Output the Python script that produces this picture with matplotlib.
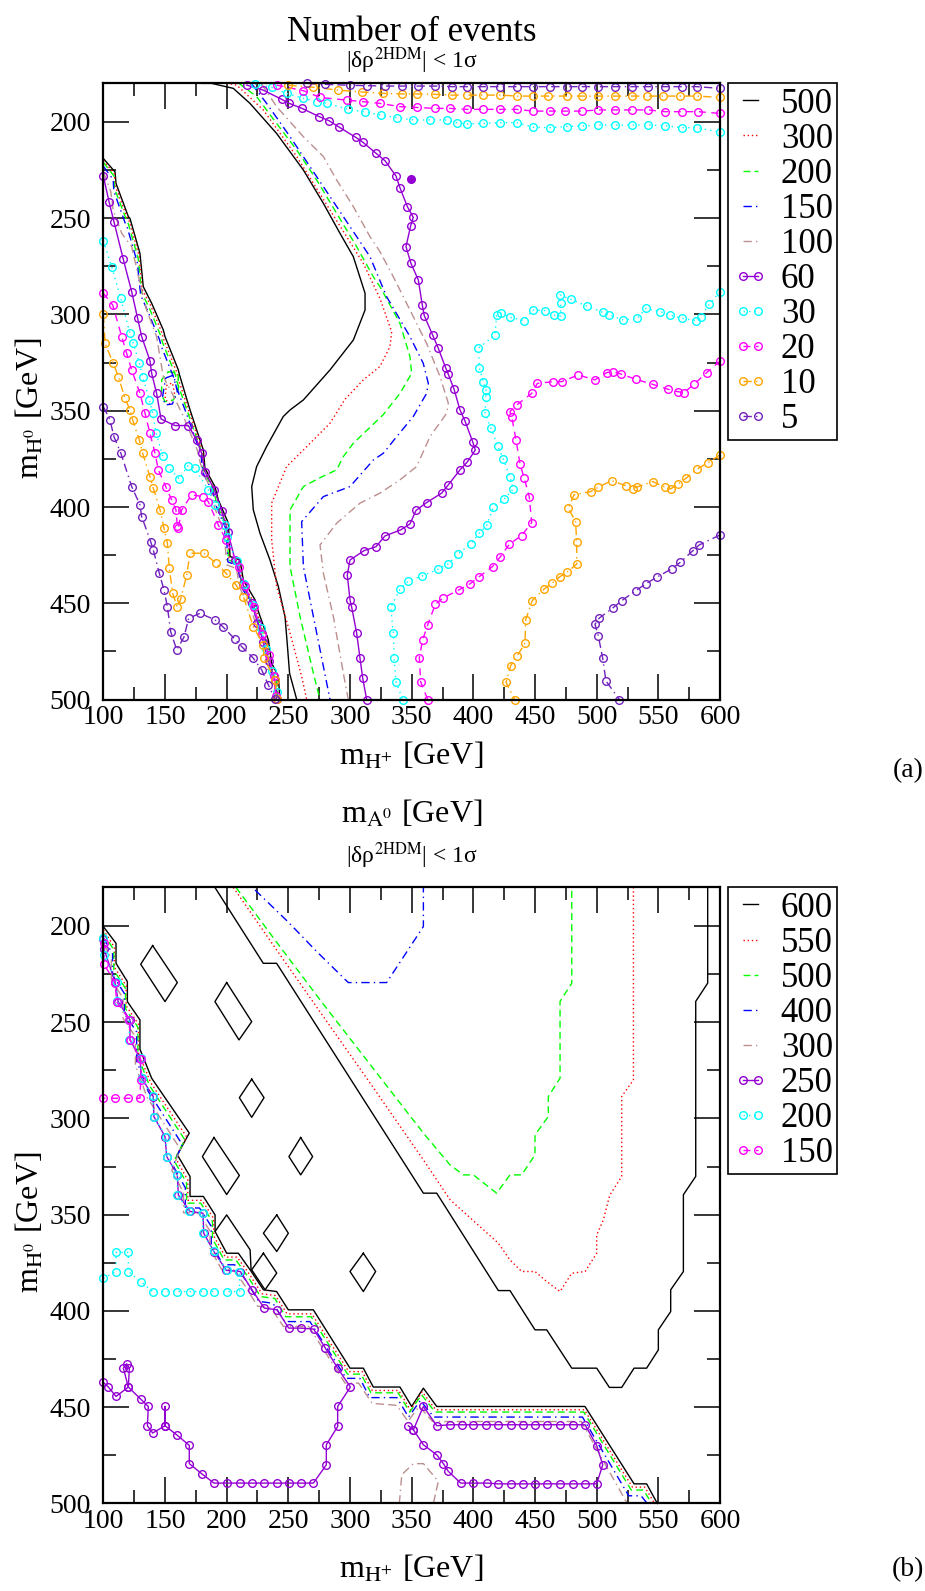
import matplotlib.pyplot as plt
from matplotlib.ticker import MultipleLocator

plt.rcParams['font.family'] = ['Liberation Serif', 'DejaVu Serif']
plt.rcParams['mathtext.fontset'] = 'stix'

x_ticks = [100, 150, 200, 250, 300, 350, 400, 450, 500, 550, 600]
y_ticks = [200, 250, 300, 350, 400, 450, 500]

# ---------------- panel (a): number of events ----------------
a500_right = [(180, 180), (187.8, 180), (205.4, 182.6), (218.9, 190.4), (240.5, 206), (262.2, 225),
              (278.4, 242.3), (291.9, 257.9), (302.7, 270), (312.2, 289), (312.2, 297.7), (302.7, 313.3),
              (283.8, 328.8), (262.2, 344.4), (251.4, 349.6), (245.9, 353), (232.4, 368.6), (224.3, 379),
              (220.3, 389.4), (221.6, 401.5), (227, 413.6), (235.1, 427.5), (241.9, 441.3), (247.3, 456.9),
              (249, 470), (251, 486.3), (256.8, 500)]
a500_left = [(100, 219), (109.5, 226), (110.3, 232), (120.3, 249.2), (121.6, 250.1), (129.7, 268.3),
             (132.4, 285.6), (139.2, 294.2), (148.6, 308), (150, 311.5), (160.8, 328.8), (161.6, 331),
             (170.3, 349.6), (181.1, 370.4), (182.4, 379.9), (190.5, 389.4), (193.2, 396.3), (201.4, 408.4),
             (202.7, 425.7), (210.8, 427.5), (213.5, 437.9), (223, 448.2), (224.3, 451.7), (233.8, 469),
             (236.5, 481.1), (241.9, 488), (243.2, 500)]

a300_right = [(200, 180), (208.1, 180.9), (229.7, 193.8), (256.8, 218), (283.8, 245.8), (310.8, 273.5),
              (324.3, 291.7), (333.8, 309), (332.4, 316.7), (324.3, 327), (310.8, 334), (296, 344),
              (283.8, 356.5), (262.2, 370.4), (248.6, 379), (236.5, 398), (236.5, 417), (240.5, 441.3),
              (251.4, 465.5), (260.8, 488), (264.9, 500)]
a300_left = [(100, 220), (109, 227), (109.5, 233), (119.5, 250), (121, 251.5), (129, 269.5), (131.5, 287),
             (138.5, 295.5), (147.5, 309.5), (149, 313), (159.5, 330), (160.5, 333), (169.5, 350.5),
             (180.5, 371), (181.8, 380.5), (190, 390.5), (192.5, 397.5), (200.5, 409.5), (202, 426.5),
             (210, 428.5), (212.5, 439), (222, 449.5), (223.5, 453), (233, 470), (235.5, 482), (241, 489),
             (242.2, 500)]
a300_loop = [(151, 337), (156, 335.5), (158, 342), (154, 346.5), (150, 344), (151, 337)]

a200_right = [(210, 180), (224.3, 186.9), (240.5, 200.8), (256.8, 214.6), (273, 230.2), (289.2, 247.5),
              (305.4, 264.8), (318.9, 280.4), (324.3, 285.6), (340.5, 304.6), (348.6, 321.9), (350, 330.6),
              (340.5, 341), (327, 352), (318.9, 357), (302.7, 366.9), (294.6, 373.8), (289.2, 380.7),
              (275, 385), (262.2, 389.4), (251.4, 401.5), (251.4, 431), (259.5, 456.9), (270.3, 486.3),
              (275.7, 500)]
a200_left = [(100, 221), (108.5, 228), (109, 234.5), (118.8, 251), (120.3, 253), (128.3, 271), (131, 288.5),
             (137.5, 297), (146.5, 311), (148, 314.5), (158.5, 331.5), (159.5, 334.5), (168.8, 351.5),
             (180, 372), (181.2, 381), (189.5, 391.5), (192, 398.5), (200, 410.5), (201.5, 427.5),
             (209.5, 429.5), (212, 440), (221.5, 450.5), (223, 454), (232.5, 471), (235, 483), (240.5, 490),
             (241.5, 500)]
a200_loop = [(152.7, 329.7), (160.8, 330.6), (160.8, 339.2), (156.8, 344.4), (150, 345.3), (147.3, 341.9),
             (147.3, 333.9), (152.7, 329.7)]

a150_right = [(220, 180), (232.4, 190.4), (251.4, 207.7), (267.6, 223.3), (283.8, 238.8), (300, 254.4),
              (316.2, 270), (329.7, 290.8), (348.6, 311.5), (359.4, 325.4), (363.5, 335.8), (362.1, 341),
              (351.3, 353), (337.8, 363.5), (327, 372.1), (318.9, 375.6), (300, 389.4), (278.4, 394.6),
              (260.8, 407.6), (262.2, 430.9), (273, 465.5), (283.8, 500)]
a150_left = [(100, 223), (108, 230), (108.5, 236), (118, 253), (119.5, 255), (127.5, 273), (130.3, 290),
             (136.5, 299), (145.5, 313), (147, 316.5), (157.5, 333.5), (158.5, 336.5), (168, 352.5),
             (179.3, 373), (180.6, 382), (189, 392.5), (191.5, 399.5), (199.5, 411.5), (201, 428.5),
             (209, 430.5), (211.5, 441), (221, 451.5), (222.5, 455), (232, 472), (234.5, 484), (240, 491),
             (240.8, 500)]
a150_loop = [(150.5, 333), (157, 331.5), (160, 340), (156, 346.5), (150.5, 347), (148, 343), (150.5, 333)]

a100_right = [(228, 180), (240.5, 192.1), (262.2, 207.7), (278.4, 218), (289.2, 230.2), (302.7, 244),
              (316.2, 259.6), (324.3, 267.4), (335.1, 280.4), (348.6, 297.7), (362.1, 315), (373, 332.3),
              (379.7, 346.1), (378.4, 351.3), (364.8, 363.5), (354, 379), (340.5, 385.9), (324.3, 392.8),
              (308.1, 398), (289.2, 408.4), (275.7, 419.7), (278.4, 434.4), (286.5, 456.9), (294.6, 486.3),
              (298.6, 500)]
a100_left = [(100, 226), (106, 236), (108, 245.8), (115, 258), (123, 264.8), (129.7, 283.8), (135.1, 297.7),
             (143.2, 311.5), (148.6, 332.3), (155, 340), (165, 353), (176, 370), (179, 378), (187.5, 392),
             (190, 400), (198, 413), (200, 430), (208, 432), (210.5, 442), (220, 453), (221.5, 456.5),
             (231, 473.5), (233.5, 485), (239, 492), (240, 500)]

a60_right = [(216.2, 180.9), (229.7, 183.5), (244.6, 188.3), (250.8, 190.4), (261.1, 193), (275.1, 197.3),
             (283, 199.4), (291.4, 202.8), (304.6, 208), (310.3, 210.5), (321.1, 216.3), (328.4, 220.2),
             (337.3, 228.1), (340.5, 234.2), (346.5, 244), (351.3, 249.6), (349.2, 253.9), (345.4, 264.8),
             (349.4, 273.5), (355.4, 282.1), (358.6, 295.1), (360.2, 300.6), (367, 310.7), (371.6, 317.6),
             (377.5, 327.6), (379.7, 331.1), (384.3, 338.7), (389.2, 349.6), (393.2, 355.3), (399.4, 366),
             (401.6, 370.4), (395.1, 376.6), (389.2, 380.7), (379.7, 388.5), (374.3, 392.8), (362.1, 397.7),
             (353.5, 401.8), (348.6, 408.8), (341.1, 411.9), (328.4, 415), (321.1, 420.6), (311.6, 422.6),
             (300, 427.5), (297.8, 435.3), (300, 448.2), (301.4, 452.1), (305.4, 465.5), (308.1, 478.5),
             (310.3, 488.9), (313.5, 500)]
a60_left = [(100, 228.1), (104.6, 241.4), (108.6, 251.8), (116.2, 271.4), (123, 288.2), (127.8, 302),
            (131.1, 311.5), (137.8, 324), (139.2, 330.6), (143.2, 341), (146.8, 354.3), (158.1, 357.7),
            (168.9, 357.7), (175.7, 365.2), (179.7, 372.1), (182.4, 381.6), (190, 391), (196, 402), (201, 413),
            (206.8, 427.5), (213, 440), (220.3, 450), (225, 460), (229.7, 470), (234, 480), (239.2, 489.8),
            (240.5, 499.8)]
a60_dot = [(349.2, 229.8)]

a30_top = [(223, 180.3), (236.5, 182.1), (248.6, 185.2), (262.2, 187.8), (273.5, 189.5), (281.1, 190.4),
           (298.6, 193.5), (312.2, 194.9), (324.9, 196.4), (337.8, 197.8), (351.4, 199), (364.8, 199),
           (378.4, 199), (386.5, 200.4), (395.1, 201.1), (408.1, 200.8), (421.6, 200.4), (435.1, 200.4),
           (448.6, 202.8), (462.1, 203), (475.6, 202.4), (487.8, 202.2), (501.3, 201.6), (514.8, 201.6),
           (528.4, 201.6), (541.9, 201.6), (555.4, 202), (568.9, 203), (581.1, 203), (600, 205.3)]
a30_right = [(600, 288.2), (591.3, 294.7), (584.3, 301.1), (580.5, 303.2), (568.9, 302), (559.4, 300.3),
             (551.3, 298.5), (540, 296.8), (533, 302), (521.6, 302.9), (510.2, 300.3), (504.8, 298.9),
             (491.9, 295.6), (478.9, 292.1), (470.3, 289.9), (470.8, 294.2), (470.8, 300.8), (465.4, 300.3),
             (458.1, 298), (448.1, 297.7), (441.1, 303.2), (429.7, 301.5), (422.1, 299.4), (418.9, 300.3),
             (417.5, 310.7), (404.1, 317.6), (404.9, 328), (408.1, 334.9), (410.2, 339.2), (410.2, 342.7),
             (409.4, 351.3), (414.3, 359.1), (419.7, 368.3), (424.3, 375), (429.7, 384.5), (432.4, 390.6),
             (424.8, 396), (416.2, 400.1), (410.8, 409.6), (404.9, 413.6), (397.8, 419.2), (387.8, 424.3),
             (379.7, 429.5), (371.6, 432.3), (358.6, 435.8), (347.3, 438.4), (340.5, 442.7), (333, 452),
             (335.1, 465.2), (335.7, 478.5), (337.3, 490.8), (342.7, 500)]
a30_left = [(100, 261.7), (106.8, 275.2), (114.1, 291.6), (121.6, 309.8), (124.3, 315), (129.2, 325.4),
            (131.9, 332.3), (137.3, 344.4), (140, 351.3), (142.7, 361.4), (148.1, 373.5), (153.5, 379.9),
            (161.4, 385.4), (168.4, 378.7), (174.3, 379.9), (185.1, 391.1), (190.5, 398.9), (198.6, 409.3),
            (200, 415.4), (208, 428), (214, 440), (221, 451), (228, 463), (232, 474), (237, 485), (240.5, 496)]

a20_top = [(240.5, 180.9), (262.2, 183.8), (275.7, 187.3), (297.3, 188.7), (310.8, 189.5), (324.3, 190.4),
           (340.5, 192.1), (354, 192.5), (368.9, 193), (381.1, 193), (394.6, 193.5), (408.1, 193.5),
           (421.6, 193.5), (435.1, 193.5), (448.6, 194.4), (462.1, 194.4), (474.3, 194.4), (487.8, 194.4),
           (501.3, 193.8), (514.8, 193.8), (528.4, 193.8), (541.9, 193.8), (555.4, 194.7), (568.9, 194.7),
           (582.4, 194.7), (600, 195.6)]
a20_right = [(600, 324.2), (589.2, 330.2), (578.9, 336.3), (570.8, 340.6), (565.6, 340.1), (558.1, 338.9),
             (545.4, 336.3), (531.9, 333.7), (519.4, 330.9), (513, 329.7), (508.1, 330.2), (498.6, 334),
             (485.1, 331.4), (471.6, 334.9), (464.8, 334.9), (451.9, 335.8), (447.3, 341), (435.1, 347.1),
             (429.7, 350.5), (431.1, 353.1), (434.6, 365.2), (437.8, 377.6), (441.3, 385.1), (445.4, 394.9),
             (447.3, 408.1), (439.2, 414.8), (429.2, 419.3), (421.6, 426.1), (415.6, 430.9), (404.9, 436.1),
             (397.3, 439.9), (388.4, 443), (375.1, 447.4), (369.2, 450.5), (363, 461.2), (358.9, 469),
             (356.2, 478.2), (357.3, 490.8), (363, 500)]
a20_left = [(100, 289), (107.6, 295.1), (114.9, 311.5), (118.9, 320.2), (123, 328.8), (129.7, 341),
            (133.8, 351.3), (137.8, 361.7), (141.9, 372.1), (144.6, 380.7), (150.8, 389.7), (155.4, 396.3),
            (158.9, 401.5), (160, 409.8), (160.8, 411), (163.5, 401.5), (171.6, 393.7), (181.1, 394.6),
            (185.1, 397.2), (193.2, 409.3), (199.5, 417.1), (210, 431), (215, 441), (222, 452), (229, 466),
            (234, 477), (238, 488), (240, 498)]

a10_top = [(250, 181), (270, 182), (290, 183.5), (310, 184.5), (327, 185.2), (341.9, 185.5), (354, 185.5),
           (368.9, 185.7), (382.4, 186.1), (394.6, 186.1), (408.1, 186.1), (421.6, 186.1), (435.1, 186.6),
           (448.6, 186.6), (460.8, 186.6), (475.6, 186.6), (487.8, 186.6), (501.3, 186.6), (514.8, 186.6),
           (528.4, 186.6), (540.5, 186.6), (554.1, 186.6), (567.6, 186.6), (581.1, 186.6), (600, 187.3)]
a10_right = [(600, 372.9), (590.5, 376.9), (581.1, 380.4), (572.4, 385.1), (565.6, 388.2), (560, 390.6),
             (555.4, 389.7), (545.4, 386.8), (532.4, 389.7), (529.2, 390.4), (523.8, 389), (512.1, 386.3),
             (501.3, 389.7), (495.1, 392), (481.6, 393.7), (477, 400.6), (482.9, 407.6), (483.8, 418.3),
             (483.8, 429.7), (475.7, 434), (470.3, 436.1), (463.8, 439.6), (457.5, 442.5), (447.8, 448.6),
             (442.4, 458.6), (441.9, 470.7), (435.6, 477.3), (430.2, 482.5), (426.5, 491.1), (433.5, 500)]
a10_left = [(100, 300), (101.4, 315), (108.1, 325.4), (112.2, 332.3), (117.6, 343.6), (121.6, 349.6),
            (123.8, 354.8), (129.2, 365.2), (131.9, 372.1), (137.8, 384.2), (140.5, 390.3), (146, 401.5),
            (149.2, 411), (151.9, 418.8), (153.5, 431.8), (156.2, 444.8), (160, 452.1), (162.7, 447.9),
            (167.6, 435.3), (170.3, 424), (181.6, 424), (191.4, 429.2), (199.5, 434.4), (207.6, 440.5),
            (213.5, 446.5), (221.6, 462.1), (229.7, 471.6), (230.3, 478.5), (239.2, 489.8), (240.5, 499.8)]

a5_top = [(265, 180), (280, 180.5), (300, 181), (314, 181.2), (328.4, 181.4), (341.9, 181.4), (355.4, 181.4),
          (368.9, 181.4), (382.4, 181.7), (394.6, 181.7), (408.1, 181.7), (421.6, 181.7), (435.1, 181.7),
          (448.6, 181.7), (462.1, 181.7), (475.6, 181.7), (487.8, 181.7), (501.3, 181.7), (514.8, 181.7),
          (528.4, 181.7), (541.9, 181.7), (555.4, 181.7), (568.9, 181.7), (581.1, 181.7), (600, 182.6)]
a5_right = [(600, 414.5), (583.2, 419.7), (577.8, 422.8), (567.6, 428.8), (560.8, 432.1), (548.6, 436.5),
            (539.7, 439.9), (531.9, 443.4), (520.2, 448.7), (513.5, 452.2), (502.1, 457.7), (498.6, 460.9),
            (501.3, 466.9), (504.8, 478.2), (507.5, 490.3), (518.4, 500)]
a5_left = [(100, 347.9), (105.4, 354.8), (108.6, 363.5), (114.1, 371.8), (123, 389.4), (129.7, 398.9),
           (131.1, 405), (138.4, 418), (140.5, 422.3), (145.4, 434.4), (149.2, 443.1), (151.9, 451.7),
           (154.6, 464.7), (159.5, 474.2), (165.4, 467.6), (169.2, 457.8), (178.4, 455.2), (190.5, 458.6),
           (196.8, 462.1), (206.8, 468.7), (212.2, 472.5), (221.6, 478.5), (228.4, 484.6), (233.8, 492.4),
           (239.2, 499.8)]

# ---------------- panel (b): m_A0 ----------------
b600_right = [(190.5, 180), (229.7, 219.4), (240.5, 219.4), (359.5, 338.8), (370.3, 338.8), (420.3, 389.4),
              (429.7, 389.4), (450, 409.8), (459.5, 409.8), (479.8, 429.7), (500, 429.7), (510.3, 439.7),
              (520.3, 439.7), (530.3, 429.7), (540.5, 429.7), (550, 420.2), (550, 409.8), (560, 400.3),
              (560, 389), (570.3, 379.5), (570.3, 339.6), (580.3, 330.1), (580.3, 239.2), (590, 229.7),
              (590, 180)]
b600_left = [(100, 200.3), (110.3, 209), (110.3, 219.4), (119.5, 228.9), (119.5, 239.3), (129.7, 248.8),
             (129.7, 264), (139.2, 279.1), (169.7, 307.6), (160, 318.9), (170.3, 330.1), (170.3, 340.5),
             (181.1, 340.5), (190.6, 350.1), (190.6, 358.7), (200, 370), (209.5, 370), (219, 378.6),
             (229.8, 389), (240.5, 389.9), (250, 399.4), (270.3, 399.4), (300, 429.7), (310.8, 429.7),
             (318.9, 439.5), (340.5, 439.5), (350, 449.6), (359.5, 440.1), (370.3, 449.6), (490.5, 449.6),
             (530.3, 489.8), (540.5, 489.8), (549.2, 500)]
b600_d1 = [(140, 210.2), (160, 229.4), (150, 239.3), (130.3, 219.9), (140, 210.2)]
b600_d2 = [(200, 229.4), (220.3, 249.7), (210, 259.2), (190.5, 239.3), (200, 229.4)]
b600_d3 = [(220.3, 279.6), (230.3, 289.2), (220.3, 299.4), (210.3, 289.2), (220.3, 279.6)]
b600_d4 = [(189.7, 309.9), (210.3, 329.6), (200, 339.5), (180.3, 319.8), (189.7, 309.9)]
b600_d5 = [(260, 309.9), (269.7, 319.8), (260, 329.3), (250.5, 319.8), (260, 309.9)]
b600_d6 = [(240.6, 350.1), (250, 359.6), (240.6, 369.1), (229.8, 359.6), (240.6, 350.1)]
b600_d7 = [(229.8, 370), (240.6, 380.3), (231.1, 389), (220.3, 378.6), (229.8, 370)]
b600_d8 = [(190.6, 358.7), (200, 350.1), (219, 368.2), (219.8, 378.6)]
b600_d9 = [(310.8, 370), (320.8, 379.5), (310.8, 389.9), (300, 379.5), (310.8, 370)]

b550_right = [(205.4, 180), (240, 212), (268.9, 238.4), (320, 285), (360, 322), (381.1, 342.2),
              (420.3, 364.8), (429.7, 373.5), (439.2, 379.5), (450, 379.5), (459.5, 384.7), (470.3, 389.9),
              (479.8, 380.4), (490.6, 379.5), (500, 370), (500, 360.5), (505.4, 352.7), (510.5, 340),
              (520.3, 330.1), (520.3, 288.6), (529.8, 279.9), (529.8, 180)]
b550_left = [(100, 202), (109, 211), (109, 221.5), (118.5, 231), (118.5, 241.5), (128.5, 251), (128.5, 266),
             (138.5, 281.5), (167.5, 309.5), (158.5, 320.5), (168.5, 332), (168.5, 342.5), (180, 342.5),
             (189.5, 352), (189.5, 361), (199, 372), (208.5, 372), (218, 380.5), (228.5, 391), (239.5, 392),
             (249, 401.5), (269, 401.5), (299, 431.5), (310, 431.5), (318, 441.3), (339.5, 441.3),
             (349, 451.5), (358.5, 442), (369.5, 451.3), (490, 451.3), (529, 491.5), (539, 491.5), (547, 500)]

b500_right = [(207.6, 180), (240, 208), (275.7, 238.4), (320, 275), (360, 308), (381.1, 324.1),
              (391.9, 329.3), (400, 329.3), (418.9, 338.8), (429.7, 329.3), (439.2, 329.3), (450, 318.9),
              (450, 308.5), (460.8, 299), (460.8, 288.6), (470.3, 279.1), (470.3, 239.2), (479.8, 229.7),
              (479.8, 180)]
b500_left = [(100, 203.5), (108.5, 212.5), (108.5, 223), (118, 232.5), (118, 243), (128, 252.5), (128, 267.5),
             (137.5, 283), (166, 311), (157.5, 322), (167.5, 333.5), (167.5, 344), (179, 344), (188.5, 353.5),
             (188.5, 362.5), (198, 373.5), (207.5, 373.5), (217, 382), (227.5, 392.5), (239, 393.5),
             (248, 403), (268.5, 403), (298, 432.8), (309, 432.8), (317, 442.5), (339, 442.5),
             (348.5, 452.5), (358, 443.5), (369, 452.5), (489.5, 452.5), (528, 493), (538, 493), (544.6, 500)]

b400_top = [(223, 181.3), (250, 198), (273, 213.3), (298.6, 229.4), (329.7, 229.4), (359.5, 200.3),
            (359.5, 180)]
b400_left = [(100, 206), (107.5, 214.5), (107.5, 225.5), (117, 235), (117, 245.5), (127, 255), (127, 270),
             (136.5, 286), (164, 313.5), (156.5, 324.5), (166.5, 336), (166.5, 346.5), (178, 346.5),
             (187.5, 356), (187.5, 365), (197, 376), (206.5, 376), (216, 384.5), (226, 395), (237.5, 396),
             (247, 405.5), (267.5, 405.5), (297, 435), (308, 435), (316, 445), (338, 445), (347.5, 455.1),
             (357, 446.5), (368, 455.1), (488.5, 455.1), (526, 496), (536, 496), (541, 500)]

b300_left = [(100, 209), (106.5, 217), (106.5, 228), (116, 237.5), (116, 248), (126, 257.5), (126, 272.5),
             (135.5, 289), (162.5, 316), (155.5, 327), (165, 338.5), (165, 349), (177, 349), (186.5, 358.5),
             (186.5, 367.5), (196, 378.5), (205.5, 378.5), (215, 387), (225, 397.5), (236, 398.5),
             (246, 408), (266.5, 408), (296, 437.5), (307, 437.5), (318, 448), (338, 449), (347, 457.4),
             (356, 449.5), (367, 457.4), (487.5, 457.4), (523, 498), (525, 500)]
b300_arc = [(340, 500), (342, 485), (351.4, 479.3), (359.5, 479.3), (371.6, 488.5), (367.6, 500)]

b250_main = [(100, 207), (100.5, 212), (109.5, 228.9), (112, 239.3), (121.6, 248.8), (121.6, 259),
             (129.7, 268.7), (131, 279), (140.5, 288.6), (141, 299), (150, 309.4), (151.4, 319.8), (160, 329.3),
             (160.8, 339.7), (170.3, 348.3), (180.8, 349.2), (181.4, 359.6), (190.1, 369.6), (199.7, 378.9),
             (211.1, 379.5), (220.5, 389), (230.5, 398.5), (240.8, 399.4), (250.3, 408.9), (260.3, 408.9),
             (270.5, 409.4), (280, 419.3), (290, 429.7), (300.3, 439.5), (290, 449.6), (290, 460),
             (280.8, 469.5), (280.8, 479.9), (270.3, 489.4), (260.3, 489.4), (250.3, 489.4), (240.8, 489.4),
             (230.5, 489.4), (220.5, 489.4), (210.5, 489.4), (200.3, 489.4), (189.7, 489.4), (179.7, 484.5),
             (169.7, 479.3), (169.7, 469.8), (160, 464.6), (150, 459.6), (150, 449.6), (150, 459.6),
             (140, 463.4), (135.7, 459.6), (136.5, 449.6), (130.3, 445.8), (120.3, 439.5), (121.1, 429.7),
             (118.9, 427.4), (116.2, 429.7), (120.3, 439.5), (110.3, 444.4), (104.1, 439.5), (100, 437.1)]
b250_loop = [(347.3, 459.6), (351.4, 461.7), (359.5, 449.6), (370.3, 459.6), (381.1, 459.1), (390.5, 459.1),
             (400, 459.1), (410.3, 459.1), (420.3, 459.1), (430.3, 459.1), (440, 459.1), (450, 459.1),
             (460, 459.1), (470.3, 459.1), (480.6, 459.1), (490.6, 459.1), (500, 469.9), (504.9, 479.9),
             (500, 489.8), (490.6, 489.8), (480.6, 489.8), (470.3, 489.8), (460, 489.8), (450, 489.8),
             (440, 489.8), (430.3, 489.8), (420.3, 489.8), (410.8, 489.4), (400, 489.4), (389.7, 489.4),
             (379.7, 483.3), (375.7, 479.3), (370.3, 474.7), (359.5, 469.5), (351.4, 461.7)]

b200_main = [(100, 206.4), (100.5, 215), (110.8, 228.9), (111, 239), (121.1, 248.8), (121, 259),
             (130.3, 268.7), (131, 279), (140, 288.3), (141, 299), (150.8, 309.4), (151.4, 319.8), (160, 329.3),
             (160, 339.7), (169.7, 348.3), (180.6, 349.2), (180.6, 359.6), (189.7, 369.1), (200, 378.9),
             (210.3, 379.5), (210.5, 389.9), (200.3, 389.9), (190, 389.9), (180.8, 389.9), (170, 389.9),
             (160, 389.9), (150, 389.9), (140, 389.9), (130.3, 384.7), (120.3, 379.5), (120.3, 369.6),
             (110.3, 369.6), (110.3, 379.5), (100, 383)]

b150_main = [(100.5, 208.7), (100.5, 219.8), (109.5, 229.4), (110.8, 239.3), (121.1, 248.8), (121.6, 259.2),
             (130.3, 269.2), (130.3, 280), (129.7, 289.5), (120.3, 289.5), (109.5, 289.5), (100, 289.5)]

VIOLET = '#9400d3'
CYAN = '#00ffff'
MAGENTA = '#ff00ff'
ORANGE = '#ffa500'
INDIGO = '#7221bc'
BROWN = '#bc8f8f'

styles_a = [
    ('500', dict(color='black', ls='-')),
    ('300', dict(color='#ff0000', ls=(0, (1, 2)))),
    ('200', dict(color='#00ff00', ls=(0, (5, 3)))),
    ('150', dict(color='#0000ff', ls=(0, (6, 3, 1, 3)))),
    ('100', dict(color=BROWN, ls=(0, (6, 3, 1, 3, 6, 3)))),
    ('60', dict(color=VIOLET, ls='-', marker='o')),
    ('30', dict(color=CYAN, ls=(0, (1, 3)), marker='o')),
    ('20', dict(color=MAGENTA, ls=(0, (5, 4)), marker='o')),
    ('10', dict(color=ORANGE, ls=(0, (6, 3, 1, 3)), marker='o')),
    ('5', dict(color=INDIGO, ls=(0, (6, 3, 1, 3, 6, 3)), marker='o')),
]
curves_a = {
    '500': [a500_right, a500_left],
    '300': [a300_right, a300_left, a300_loop],
    '200': [a200_right, a200_left, a200_loop],
    '150': [a150_right, a150_left, a150_loop],
    '100': [a100_right, a100_left],
    '60': [a60_right, a60_left],
    '30': [a30_top, a30_right, a30_left],
    '20': [a20_top, a20_right, a20_left],
    '10': [a10_top, a10_right, a10_left],
    '5': [a5_top, a5_right, a5_left],
}

styles_b = [
    ('600', dict(color='black', ls='-')),
    ('550', dict(color='#ff0000', ls=(0, (1, 2)))),
    ('500', dict(color='#00ff00', ls=(0, (5, 3)))),
    ('400', dict(color='#0000ff', ls=(0, (6, 3, 1, 3)))),
    ('300', dict(color=BROWN, ls=(0, (6, 3, 1, 3, 6, 3)))),
    ('250', dict(color=VIOLET, ls='-', marker='o')),
    ('200', dict(color=CYAN, ls=(0, (1, 3)), marker='o')),
    ('150', dict(color=MAGENTA, ls=(0, (5, 4)), marker='o')),
]
curves_b = {
    '600': [b600_right, b600_left, b600_d1, b600_d2, b600_d3, b600_d4, b600_d5, b600_d6, b600_d7,
            b600_d8, b600_d9],
    '550': [b550_right, b550_left],
    '500': [b500_right, b500_left],
    '400': [b400_top, b400_left],
    '300': [b300_left, b300_arc],
    '250': [b250_main, b250_loop],
    '200': [b200_main],
    '150': [b150_main],
}


def draw(ax, styles, curves):
    for label, st in styles:
        for k, pts in enumerate(curves[label]):
            xs = [p[0] for p in pts]
            ys = [p[1] for p in pts]
            ax.plot(xs, ys, label=label if k == 0 else None, lw=1.0, ms=5.5,
                    mfc='none', mew=1.0, clip_on=False, **st)


def setup(ax):
    ax.set_xlim(100, 600)
    ax.set_ylim(500, 180)
    ax.set_xticks(x_ticks)
    ax.set_yticks(y_ticks)
    ax.xaxis.set_minor_locator(MultipleLocator(25))
    ax.yaxis.set_minor_locator(MultipleLocator(25))
    ax.tick_params(which='both', direction='in', top=True, right=True, width=1.1)
    ax.tick_params(which='major', length=19, labelsize=20)
    ax.tick_params(which='minor', length=9.5)
    ax.tick_params(axis='x', pad=4)
    ax.tick_params(axis='y', pad=9)
    for s in ax.spines.values():
        s.set_linewidth(1.6)
    leg = ax.legend(loc='upper left', bbox_to_anchor=(1.013, 1.0), borderaxespad=0, fontsize=25,
                    numpoints=2, handlelength=1.05, handletextpad=0.35, labelspacing=0.06,
                    borderpad=0.12, fancybox=False, edgecolor='black', framealpha=1)
    leg.get_frame().set_linewidth(1.2)


fig = plt.figure(figsize=(9.25, 15.91), dpi=100)
ax_a = fig.add_axes([0.1117, 0.5603, 0.6667, 0.3873])
ax_b = fig.add_axes([0.1117, 0.0550, 0.6667, 0.3872])

draw(ax_a, styles_a, curves_a)
ax_a.plot([p[0] for p in a60_dot], [p[1] for p in a60_dot], 'o', color=VIOLET, ms=5.5)
setup(ax_a)

draw(ax_b, styles_b, curves_b)
setup(ax_b)

xlab = r'm$_{\mathrm{H}^{+}}$ [GeV]'
ylab = r'm$_{\mathrm{H}^{0}}$ [GeV]'
sub = '|δρ$^{\\mathrm{2HDM}}$| < 1σ'

fig.text(0.4449, 0.9745, 'Number of events', ha='center', va='baseline', fontsize=25)
fig.text(0.4449, 0.9617, sub, ha='center', va='center', fontsize=17)
fig.text(0.4449, 0.5192, xlab, ha='center', va='baseline', fontsize=23)
fig.text(0.0324, 0.7436, ylab, ha='center', va='center', rotation=90, fontsize=23)
fig.text(0.982, 0.5154, '(a)', ha='center', va='center', fontsize=20)

fig.text(0.4449, 0.4827, r'm$_{\mathrm{A}^{0}}$ [GeV]', ha='center', va='baseline', fontsize=23)
fig.text(0.4449, 0.4620, sub, ha='center', va='center', fontsize=17)
fig.text(0.4449, 0.0082, xlab, ha='center', va='baseline', fontsize=23)
fig.text(0.0324, 0.2320, ylab, ha='center', va='center', rotation=90, fontsize=23)
fig.text(0.982, 0.0132, '(b)', ha='center', va='center', fontsize=20)

fig.savefig('out.png', dpi=100)
